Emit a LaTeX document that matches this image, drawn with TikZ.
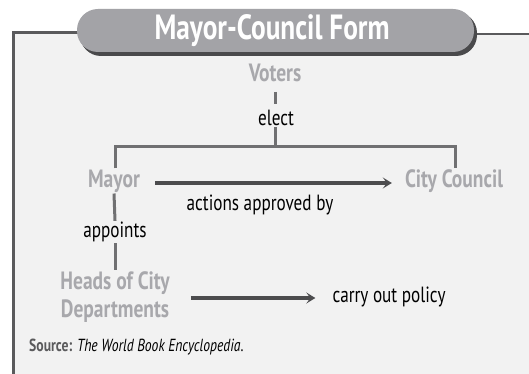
\documentclass[tikz,border=0pt]{standalone}
\usepackage{fontspec}
\setmainfont{PT Sans}[FakeStretch=0.78]
\usetikzlibrary{arrows.meta}
\definecolor{bgin}{HTML}{F2F2F2}
\definecolor{tabfill}{HTML}{A3A3A7}
\definecolor{tabshadow}{HTML}{4A4A4C}
\definecolor{frameclr}{HTML}{5A5A5C}
\definecolor{lblgray}{HTML}{A8A8AC}
\definecolor{conn}{HTML}{707072}
\definecolor{arrowclr}{HTML}{4C4C4E}
\tikzset{
  graylbl/.style={text=lblgray, font=\fontsize{25}{28}\selectfont\bfseries, inner sep=1pt, align=center},
  blacklbl/.style={text=black, font=\fontsize{22}{24}\selectfont, inner sep=1pt},
  connline/.style={draw=conn, line width=3pt},
  bigarrow/.style={draw=arrowclr, line width=4pt, -{Stealth[length=9pt,width=11pt,inset=4pt]}},
}
\begin{document}
\begin{tikzpicture}[x=1pt,y=-1pt]
\useasboundingbox (0,0) rectangle (529,374);
\fill[white] (0,0) rectangle (529,374);
% panel background
\fill[bgin] (13,33) rectangle (529,374);
% frame
\draw[frameclr, line width=3pt] (13,374) -- (13,33) -- (90,33);
\draw[frameclr, line width=2pt] (460,34) -- (529,34);
% tab
\fill[tabshadow, rounded corners=21pt] (80,12) rectangle (477,56);
\fill[tabfill, rounded corners=21pt] (77,9) rectangle (474,52);
\node[text=white, font=\fontsize{35}{37}\selectfont\bfseries] (title) at (272,31) {Mayor-Council Form};
% nodes
\node[graylbl] (voters) at (275,73) {Voters};
\node[blacklbl] (elect) at (276,118) {elect};
\node[graylbl] (mayor) at (114,181) {Mayor};
\node[graylbl] (council) at (454,181) {City Council};
\node[blacklbl] (approved) at (260,205) {actions approved by};
\node[blacklbl] (appoints) at (115,232) {appoints};
\node[graylbl] (heads) at (115,297) {Heads of City\\Departments};
\node[blacklbl] (policy) at (389,297) {carry out policy};
\node[anchor=west, inner sep=0pt, font=\fontsize{17.5}{19}\selectfont] (source) at (29,347)
  {\textcolor{frameclr}{\bfseries Source:} \textit{The World Book Encyclopedia}.};
% connectors
\coordinate (bl) at (115,147);
\coordinate (br) at (455,147);
\coordinate (bm) at (275,147);
\coordinate (vd) at (275,92);
\draw[connline] (vd) -- ++(0,12);
\draw[connline] (elect.south -| bm) -- (bm);
\draw[connline] (mayor.north -| bl) -- (bl) -- (br) -- (council.north -| br);
\draw[connline] (mayor.south) -- (appoints.north);
\draw[connline] (appoints.south) -- (heads.north);
\draw[bigarrow] ([xshift=14pt,yshift=-2pt]mayor.east) -- ([xshift=-12pt,yshift=-2pt]council.west);
\path (heads.east |- policy.west) coordinate (h2);
\draw[bigarrow] ([xshift=20pt,yshift=-1pt]h2) -- ([xshift=-16pt,yshift=-1pt]policy.west);
\end{tikzpicture}
\end{document}
